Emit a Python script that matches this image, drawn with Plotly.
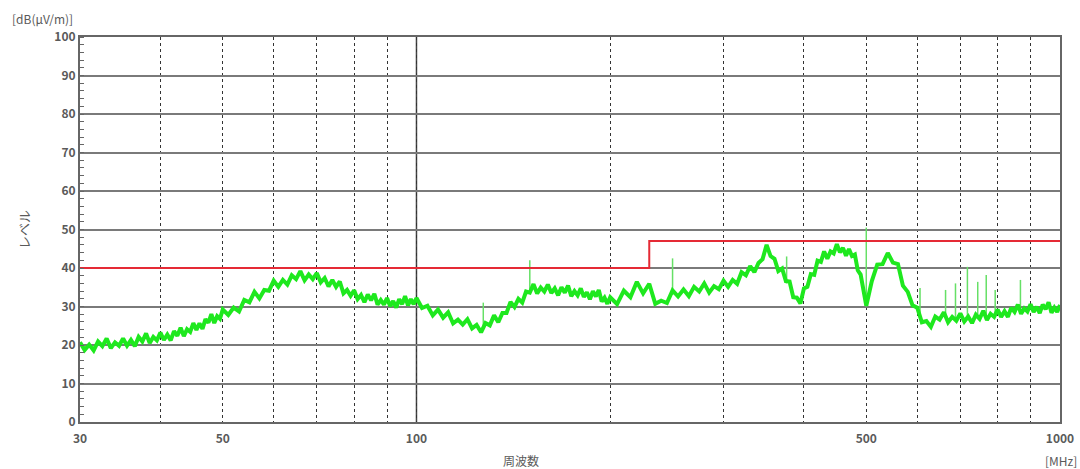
import plotly.graph_objects as go

# ---- measured emission (frequency in MHz, level in dB(uV/m)) ----
freq_a = [30.0, 30.5, 31.0, 31.5, 32.0, 32.5, 33.0, 33.5, 34.0, 34.5, 35.0, 35.5, 36.0, 36.5, 37.0, 37.5,
          38.0, 38.5, 39.0, 39.5, 40.0, 40.5, 41.0, 41.5, 42.0, 42.5, 43.0, 43.5, 44.0, 44.5, 45.0, 45.5,
          46.0, 46.5, 47.0, 47.5, 48.0, 48.5, 49.0, 49.5]
level_a = [20.7, 18.7, 20.1, 18.6, 20.9, 19.7, 21.7, 19.2, 20.7, 19.8, 21.7, 19.8, 21.3, 19.7, 22.1, 20.9,
           23.0, 20.5, 22.1, 21.2, 23.2, 21.3, 22.7, 21.2, 23.6, 22.4, 24.5, 22.3, 24.1, 23.4, 25.7, 23.9,
           25.6, 24.2, 26.7, 25.8, 28.0, 25.7, 27.5, 26.8]

freq_b = [50, 51, 52, 53, 54, 55, 56, 57, 58, 59, 60, 61, 62, 63, 64, 65, 66, 67, 68, 69, 70, 71, 72, 73, 74,
          75, 76, 77, 78, 79, 80, 81, 82, 83, 84, 85, 86, 87, 88, 89, 90, 91, 92, 93, 94, 95, 96, 97, 98, 99]
level_b = [29.2, 27.8, 29.7, 28.7, 31.7, 31.1, 33.8, 32.1, 34.3, 34.1, 36.7, 35.1, 36.9, 35.7, 38.1, 37.1,
           39.2, 36.8, 38.3, 37.1, 38.7, 36.3, 37.4, 35.2, 36.9, 35.1, 36.5, 33.4, 34.3, 32.8, 34.2, 31.9,
           33.0, 31.1, 33.1, 31.6, 33.3, 30.5, 31.7, 30.5, 32.2, 30.1, 31.4, 29.7, 31.9, 30.6, 32.7, 30.3,
           31.9, 30.6]

freq_c = [100, 102, 104, 106, 108, 110, 112, 114, 116, 118, 120, 122, 124, 126, 128, 130, 132, 134, 136,
          138, 140, 142, 144, 146, 148, 150, 152, 154, 156, 158, 160, 162, 164, 166, 168, 170, 172, 174,
          176, 178, 180, 182, 184, 186, 188, 190, 192, 194, 196, 198]
level_c = [32.2, 29.6, 30.2, 27.7, 29.2, 27.1, 28.5, 25.6, 26.6, 25.3, 26.7, 24.3, 25.2, 23.3, 25.7, 25.1,
           27.7, 25.9, 28.3, 28.3, 31.2, 29.9, 32.0, 31.0, 33.9, 33.6, 35.8, 33.4, 34.9, 33.9, 35.7, 33.5,
           34.7, 32.9, 35.0, 33.6, 35.4, 32.7, 34.0, 32.9, 34.7, 32.5, 33.7, 31.9, 34.0, 32.6, 34.3, 31.3,
           32.3, 30.7]

freq_d = [200, 205, 210, 215, 220, 225, 230, 235, 240, 245, 250, 255, 260, 265, 270, 275, 280, 285, 290,
          295, 300, 305, 310, 315, 320, 325, 330, 335, 340, 345, 350, 355, 360, 365, 370, 375, 380, 385,
          390, 395, 400, 405, 410, 415, 420, 425, 430, 435, 440, 445, 450, 455, 460, 465, 470, 475, 480,
          485, 490, 495]
level_d = [32.4, 30.6, 34.1, 32.4, 36.4, 33.4, 35.9, 30.7, 31.5, 30.9, 34.2, 32.6, 34.4, 32.7, 35.1, 33.9,
           36.0, 33.6, 35.3, 34.5, 36.7, 35.1, 36.9, 35.9, 38.9, 38.1, 40.5, 38.9, 41.3, 42.3, 46.0, 43.1,
           42.4, 39.2, 39.9, 36.6, 36.5, 32.4, 32.3, 30.8, 34.7, 35.1, 38.4, 38.2, 41.9, 41.6, 44.3, 42.4,
           44.3, 43.8, 46.2, 44.1, 45.2, 43.2, 44.9, 43.1, 43.5, 39.4, 38.3, 33.8]

freq_e = [500, 510, 520, 530, 540, 550, 560, 570, 580, 590, 600, 610, 620, 630, 640, 650, 660, 670, 680,
          690, 700, 710, 720, 730, 740, 750, 760, 770, 780, 790, 800, 810, 820, 830, 840, 850, 860, 870,
          880, 890, 900, 910, 920, 930, 940, 950, 960, 970, 980, 990, 1000]
level_e = [30.2, 36.6, 40.9, 41.0, 43.9, 41.4, 41.0, 35.4, 33.8, 30.3, 29.7, 25.9, 26.2, 24.7, 27.4, 26.6,
           28.5, 25.9, 27.3, 26.3, 28.2, 26.1, 27.4, 25.7, 27.9, 26.8, 28.9, 26.5, 28.1, 27.3, 29.2, 27.3,
           28.8, 27.3, 29.7, 28.6, 30.5, 28.1, 29.5, 28.7, 30.6, 28.6, 29.9, 28.3, 30.5, 29.3, 31.1, 28.4,
           29.7, 28.6, 30.4]

# narrow-band spikes
spike_freq = [127, 150, 250, 376, 500, 606, 664, 688, 718, 745, 768, 793, 868]
spike_base = [25.0, 34.0, 33.0, 36.0, 30.0, 27.0, 27.0, 27.0, 27.0, 27.5, 27.5, 28.0, 29.0]
spike_top = [31.0, 42.0, 42.5, 43.0, 50.5, 34.8, 34.3, 36.0, 40.3, 36.4, 38.2, 34.3, 36.9]

# limit line
limit_freq = [30, 230, 230, 1000]
limit_level = [40, 40, 47, 47]

# axis ticks / grid
x_grid_vals = [30, 40, 50, 60, 70, 80, 90, 100, 200, 300, 400, 500, 600, 700, 800, 900, 1000]
x_tick_text = ['30', '', '50', '', '', '', '', '100', '', '', '', '500', '', '', '', '', '1000']
y_tick_vals = [0, 10, 20, 30, 40, 50, 60, 70, 80, 90, 100]

freq = freq_a + freq_b + freq_c + freq_d + freq_e
level = level_a + level_b + level_c + level_d + level_e

sx, sy = [], []
for f, b, t in zip(spike_freq, spike_base, spike_top):
    sx += [f, f, None]
    sy += [b, t, None]

FONT = "Noto Sans CJK JP"
GRAY = "#5a5a5a"

fig = go.Figure()
fig.add_trace(go.Scatter(x=sx, y=sy, mode="lines",
                         line=dict(color="#66e066", width=1.5), hoverinfo="skip"))
fig.add_trace(go.Scatter(x=freq, y=level, mode="lines",
                         line=dict(color="#1ee81e", width=4), hoverinfo="skip"))
fig.add_trace(go.Scatter(x=limit_freq, y=limit_level, mode="lines",
                         line=dict(color="#e52a35", width=2), hoverinfo="skip"))

fig.add_shape(type="line", xref="x", yref="paper", x0=100, x1=100, y0=0, y1=1,
              line=dict(color="#444444", width=1.5), layer="below")

fig.update_layout(
    width=1080, height=469,
    margin=dict(l=80, r=20, t=37, b=47, autoexpand=False),
    paper_bgcolor="white", plot_bgcolor="white",
    showlegend=False,
    font=dict(family=FONT, color=GRAY, size=12),
    xaxis=dict(type="log", range=[1.4771213, 3.0],
               tickvals=x_grid_vals, ticktext=x_tick_text,
               showgrid=True, gridcolor="#333333", gridwidth=1.3, griddash="dot",
               showline=True, linecolor="#666666", linewidth=2, mirror=True,
               ticks="", ticklabelstandoff=5,
               tickfont=dict(size=12, color=GRAY, weight="bold"),
               zeroline=False),
    yaxis=dict(range=[0, 100], tickvals=y_tick_vals,
               showgrid=True, gridcolor="#7a7a7a", gridwidth=1.6,
               showline=True, linecolor="#666666", linewidth=2, mirror=True,
               ticks="", tickfont=dict(size=12, color=GRAY, weight="bold"),
               minor=dict(dtick=2, ticks="inside", ticklen=4, tickcolor="#666666", showgrid=False),
               zeroline=False,
               title=dict(text="レベル", font=dict(size=13, color=GRAY), standoff=22)),
)

fig.add_annotation(text="[dB(μV/m)]", xref="paper", yref="paper", x=-0.0714, y=1.049,
                   xanchor="left", yanchor="middle", showarrow=False,
                   font=dict(size=12, color=GRAY, family=FONT))
fig.add_annotation(text="周波数", xref="paper", yref="paper", x=0.45, y=-0.099,
                   xanchor="center", yanchor="middle", showarrow=False,
                   font=dict(size=12, color=GRAY, family=FONT))
fig.add_annotation(text="[MHz]", xref="paper", yref="paper", x=1.019, y=-0.099,
                   xanchor="right", yanchor="middle", showarrow=False,
                   font=dict(size=12, color=GRAY, family=FONT))

fig.write_html("out.html", config={"displayModeBar": False},
               post_script="document.body.style.margin='0px';document.body.style.overflow='hidden';")
